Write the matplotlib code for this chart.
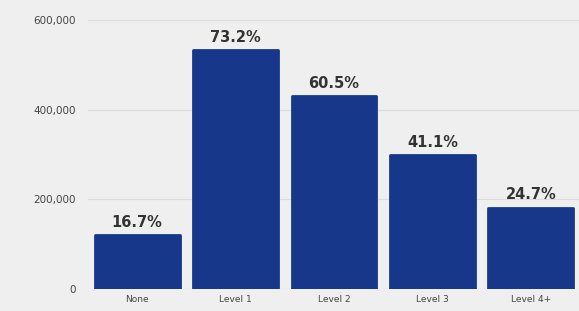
import numpy as np
from matplotlib import pyplot as plt

categories = ['None', 'Level 1', 'Level 2', 'Level 3', 'Level 4+']
counts = [120000, 533000, 430000, 299000, 181000]
pct_labels = ['16.7%', '73.2%', '60.5%', '41.1%', '24.7%']
yticks = [0, 200000, 400000, 600000]

bg = '#efefef'
navy = '#17388a'

fig = plt.figure(figsize=(5.79, 3.11), dpi=100, facecolor=bg)
ax = fig.add_axes([88/579, 1-289/311, (580-88)/579, (289-20)/311])
ax.set_facecolor(bg)

x = np.arange(len(categories))
bars = ax.bar(x, counts, width=0.86, color=navy, edgecolor=navy,
              linewidth=2, joinstyle='round', zorder=3)

for b, lab in zip(bars, pct_labels):
    ax.text(b.get_x() + b.get_width()/2, b.get_height() + 12000, lab,
            ha='center', va='bottom', fontsize=10.5, color='#333333',
            fontweight='semibold', clip_on=False)

ax.set_xlim(-0.5, len(categories) - 0.5)
ax.set_ylim(0, 600000)
ax.set_yticks(yticks)
ax.set_yticklabels([f'{v:,}' for v in yticks])
ax.set_xticks(x)
ax.set_xticklabels(categories)
ax.tick_params(axis='y', length=0, labelsize=7.5, labelcolor='#444444', pad=9)
ax.tick_params(axis='x', length=0, labelsize=6.5, labelcolor='#444444', pad=4)
ax.grid(axis='y', color='#dcdcdc', linewidth=0.8, zorder=0)
for s in ax.spines.values():
    s.set_visible(False)

plt.savefig('out.png', dpi=100, facecolor=bg)
